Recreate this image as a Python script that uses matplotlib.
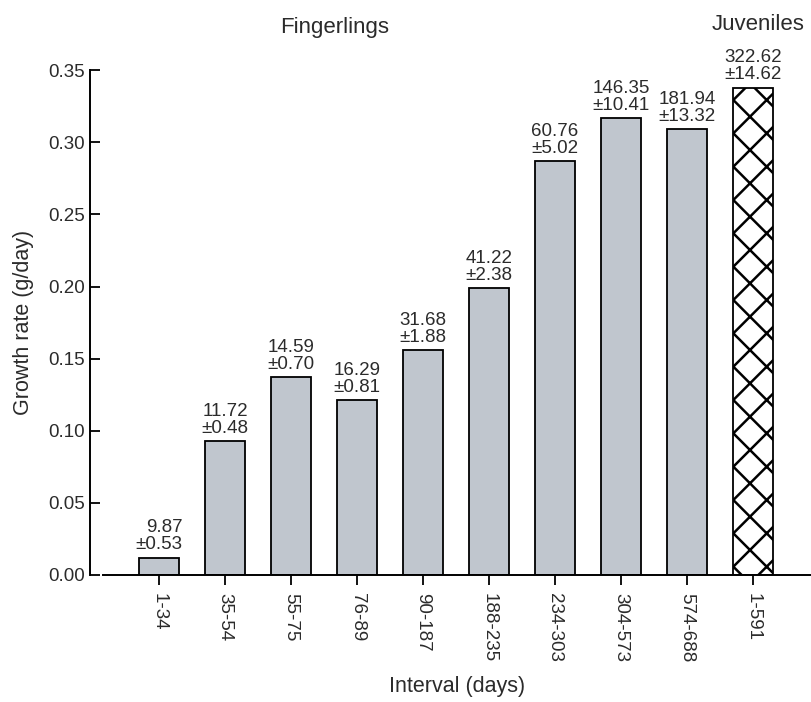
import matplotlib
matplotlib.use('Agg')
import matplotlib.pyplot as plt
import numpy as np

plt.rcParams['font.family'] = ['Liberation Sans', 'DejaVu Sans']
plt.rcParams['hatch.linewidth'] = 1.8

# growth rate per interval, with mean weight (g) +/- SE written over each bar
intervals = ['1-34', '35-54', '55-75', '76-89', '90-187', '188-235',
             '234-303', '304-573', '574-688', '1-591']
growth = [0.012, 0.093, 0.137, 0.121, 0.156, 0.199, 0.287, 0.317, 0.309, 0.338]
weights = ['9.87', '11.72', '14.59', '16.29', '31.68', '41.22',
           '60.76', '146.35', '181.94', '322.62']
weight_se = ['0.53', '0.48', '0.70', '0.81', '1.88', '2.38',
             '5.02', '10.41', '13.32', '14.62']

sTextColor = '#2b2b2b'
sBarColor = '#c0c6ce'

fig = plt.figure(figsize=(8.11, 7.02), dpi=100)
ax = fig.add_axes([0.127, 0.181, 0.873, 0.719])

x = np.arange(len(intervals))
# fingerling intervals plain grey, the juvenile one cross-hatched
ax.bar(x[:-1], growth[:-1], width=0.6, color=sBarColor,
       edgecolor='black', linewidth=1.3)
ax.bar(x[-1:], growth[-1:], width=0.6, color='white', edgecolor='black',
       linewidth=1.3, hatch='x')

for i in range(len(intervals)):
    ax.annotate(weights[i] + '\n\u00b1' + weight_se[i], (x[i], growth[i]),
                xytext=(0, 3), textcoords='offset points', ha='center',
                va='bottom', multialignment='right', linespacing=1.0,
                fontsize=13.5, color=sTextColor)

ax.set_xlim(-0.85, 9.88)
ax.set_ylim(0, 0.35)
ax.set_yticks(np.arange(0, 0.351, 0.05))
ax.set_yticklabels(['%.2f' % v for v in np.arange(0, 0.351, 0.05)])
ax.set_xticks(x)
ax.set_xticklabels(intervals, rotation=-90)

ax.spines['top'].set_visible(False)
ax.spines['right'].set_visible(False)
ax.spines['left'].set_position(('outward', 9))
ax.spines['left'].set_linewidth(1.4)
ax.spines['bottom'].set_linewidth(1.4)
ax.tick_params(axis='y', direction='in', length=7, width=1.3, pad=4,
               labelsize=13.5, labelcolor=sTextColor)
ax.tick_params(axis='x', direction='out', length=7, width=1.3, pad=6,
               labelsize=13.5, labelcolor=sTextColor)

ax.set_xlabel('Interval (days)', fontsize=15.5, color=sTextColor, labelpad=10)
ax.set_ylabel('Growth rate (g/day)', fontsize=15.5, color=sTextColor, labelpad=10)

fig.text(335 / 811, 1 - 27 / 702, 'Fingerlings', ha='center', va='center',
         fontsize=16, color=sTextColor)
fig.text(758 / 811, 1 - 25 / 702, 'Juveniles', ha='center', va='center',
         fontsize=16, color=sTextColor)

fig.savefig('out.png', dpi=100)
